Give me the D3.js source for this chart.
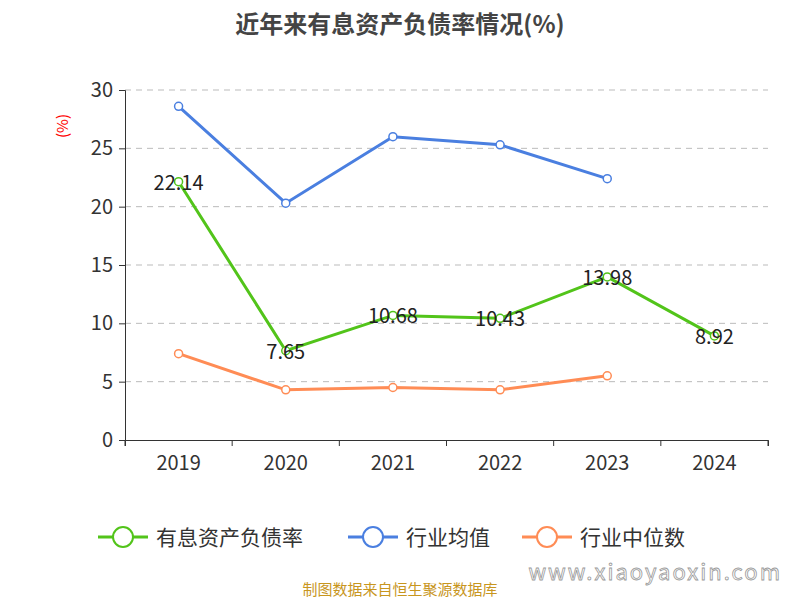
<!DOCTYPE html><html><head><meta charset="utf-8"><script src="https://cdn.jsdelivr.net/npm/d3@7"></script>
<style>body{margin:0;background:#fff}text{font-family:"Noto Sans CJK SC","Noto Sans",sans-serif}</style></head><body>
<svg id="c" width="800" height="600"></svg>
<script>
const categories=["2019","2020","2021","2022","2023","2024"];
const debtRatio=[22.14,7.65,10.68,10.43,13.98,8.92];
const industryMean=[28.6,20.3,26.0,25.3,22.4,null];
const industryMedian=[7.4,4.3,4.5,4.3,5.5,null];
const yTicks=[0,5,10,15,20,25,30];
const svg=d3.select("#c");
const x=d3.scaleBand().domain(categories).range([125,768]);
const y=d3.scaleLinear().domain([0,30]).range([440,90]);
const cx=d=>x(d)+x.bandwidth()/2;
svg.append("text").attr("x",400).attr("y",33).attr("text-anchor","middle").attr("font-size",24).attr("font-weight","bold").attr("fill","#444").text("近年来有息资产负债率情况(%)");
svg.append("text").attr("transform","translate(68,126) rotate(-90)").attr("text-anchor","middle").attr("font-size",15).attr("fill","red").text("(%)");
yTicks.forEach(t=>{if(t>0)svg.append("line").attr("x1",125).attr("x2",768).attr("y1",y(t)).attr("y2",y(t)).attr("stroke","#bbb").attr("stroke-dasharray","6,5");});
const ya=svg.append("g").attr("transform","translate(125,0)").call(d3.axisLeft(y).tickValues(yTicks).tickSize(6).tickPadding(6));
const xa=svg.append("g").attr("transform","translate(0,440)").call(d3.axisBottom(x).tickSize(6).tickPadding(10));
xa.selectAll(".tick line").attr("transform",`translate(${-x.bandwidth()/2},0)`);
xa.append("line").attr("x1",768).attr("x2",768).attr("y1",0).attr("y2",6).attr("stroke","#333");
[ya,xa].forEach(a=>{a.selectAll("text").attr("font-size",20).attr("fill","#333");a.selectAll("line,path").attr("stroke","#333");});
const series=[{n:"有息资产负债率",v:debtRatio,c:"#52c41a",lab:true},{n:"行业均值",v:industryMean,c:"#4a7fe0"},{n:"行业中位数",v:industryMedian,c:"#ff8c55"}];
const line=d3.line().defined(d=>d[1]!=null).x(d=>cx(d[0])).y(d=>y(d[1]));
series.forEach(s=>{const pts=categories.map((c,i)=>[c,s.v[i]]);
svg.append("path").attr("d",line(pts)).attr("fill","none").attr("stroke",s.c).attr("stroke-width",3);
pts.filter(p=>p[1]!=null).forEach(p=>{svg.append("circle").attr("cx",cx(p[0])).attr("cy",y(p[1])).attr("r",4).attr("fill","#fff").attr("stroke",s.c).attr("stroke-width",1.5);
if(s.lab)svg.append("text").attr("x",cx(p[0])).attr("y",y(p[1])+8).attr("text-anchor","middle").attr("font-size",20).attr("fill","#222").text(p[1].toFixed(2));});});
const lx=[98,348,522];
series.forEach((s,i)=>{const g=svg.append("g").attr("transform",`translate(${lx[i]},537)`);
g.append("line").attr("x1",0).attr("x2",50).attr("stroke",s.c).attr("stroke-width",3);
g.append("circle").attr("cx",25).attr("r",10).attr("fill","#fff").attr("stroke",s.c).attr("stroke-width",2);
g.append("text").attr("x",58).attr("y",8).attr("font-size",21).attr("fill","#333").text(s.n);});
svg.append("text").attr("x",400).attr("y",595).attr("text-anchor","middle").attr("font-size",15).attr("fill","#c8961e").text("制图数据来自恒生聚源数据库");
svg.append("text").attr("x",782).attr("y",580).attr("text-anchor","end").attr("font-size",22).attr("fill","#fff").attr("stroke","#999").attr("stroke-width",0.8).attr("letter-spacing",2).text("www.xiaoyaoxin.com");
</script></body></html>
